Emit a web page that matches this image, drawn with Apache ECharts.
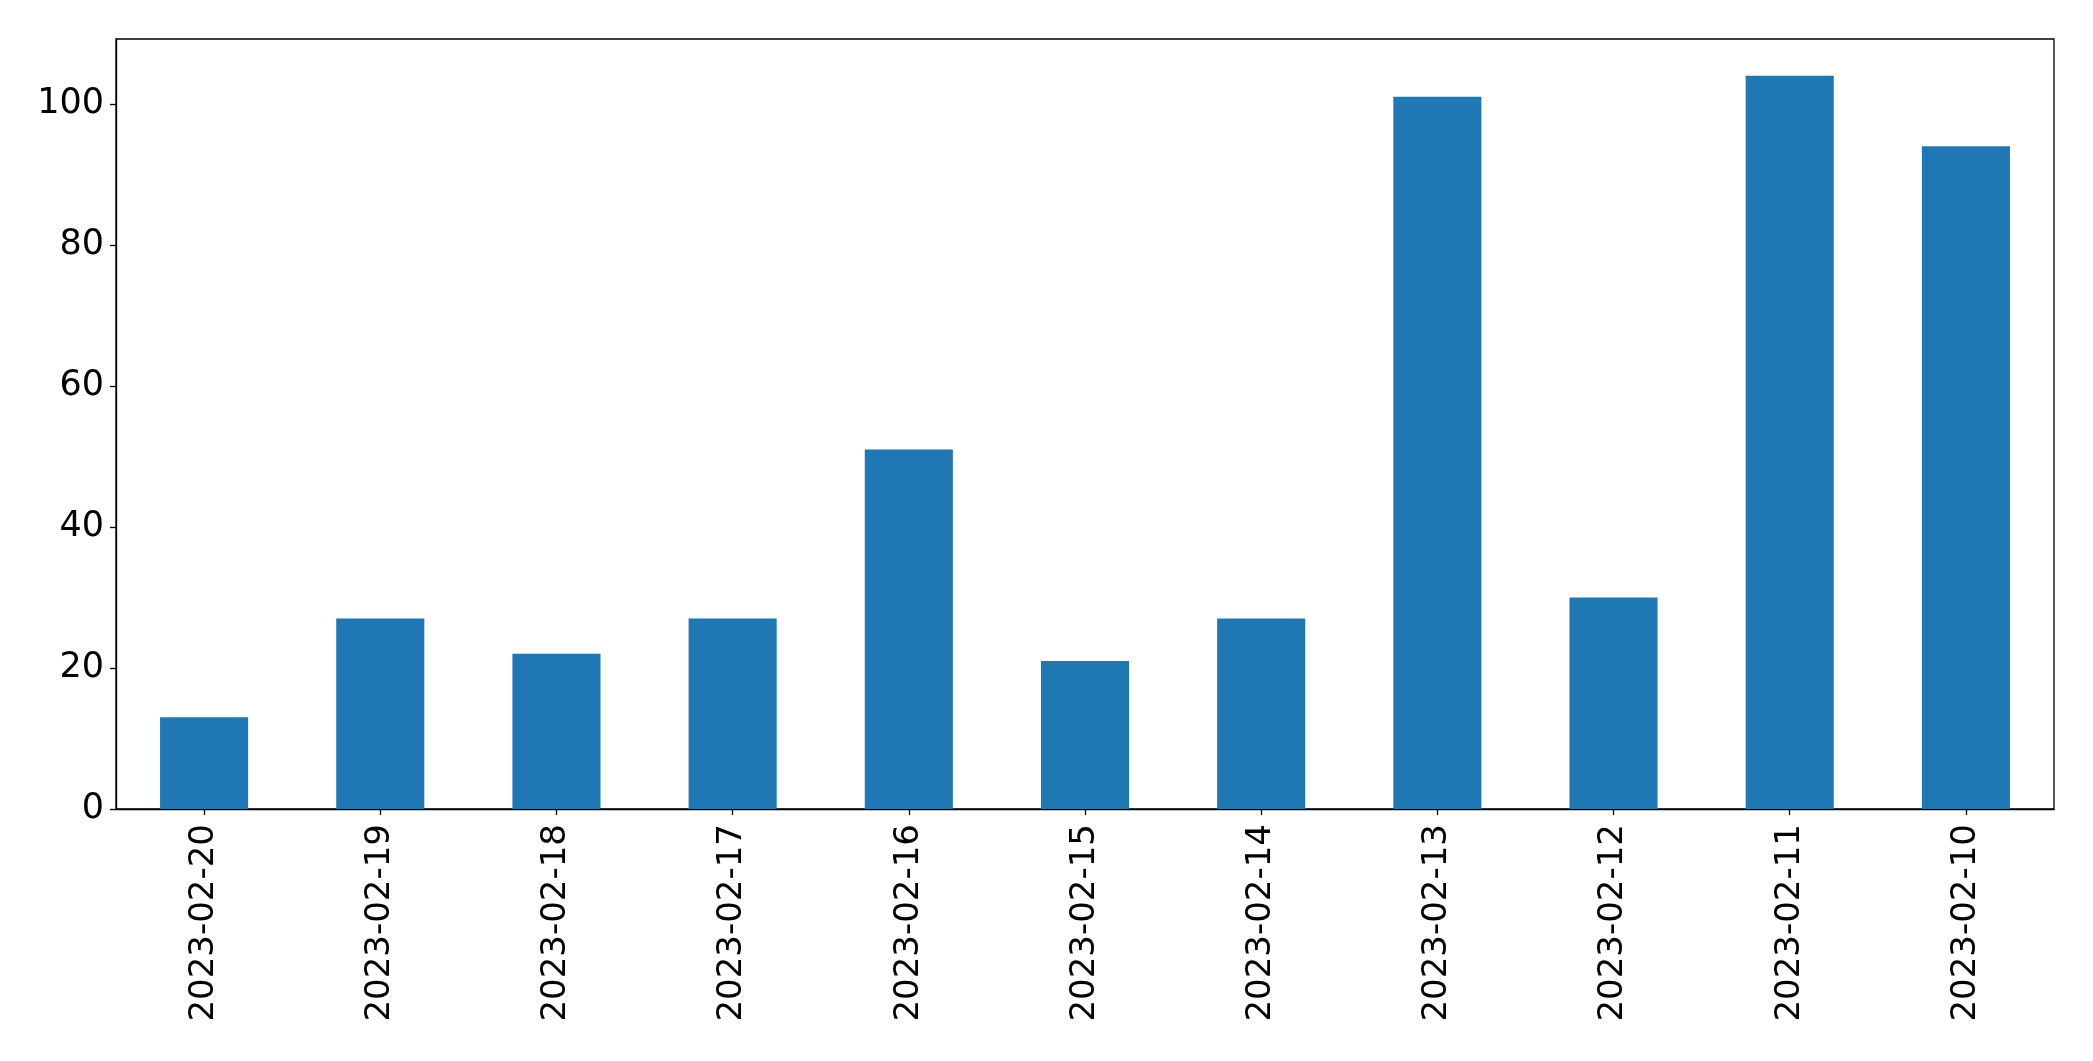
<!DOCTYPE html>
<html>
<head>
<meta charset="utf-8">
<script src="https://cdn.jsdelivr.net/npm/echarts@6/dist/echarts.min.js"></script>
<style>
html,body{margin:0;padding:0;background:#fff;}
#chart{width:2093px;height:1061px;}
</style>
</head>
<body>
<div id="chart"></div>
<script>
const categories = ['2023-02-20','2023-02-19','2023-02-18','2023-02-17','2023-02-16','2023-02-15','2023-02-14','2023-02-13','2023-02-12','2023-02-11','2023-02-10'];
const values = [13, 27, 22, 27, 51, 21, 27, 101, 30, 104, 94];
const yTicks = [0, 20, 40, 60, 80, 100];

const chart = echarts.init(document.getElementById('chart'), null, {renderer: 'canvas'});
const font = 'DejaVu Sans';
chart.setOption({
  animation: false,
  backgroundColor: '#ffffff',
  grid: {
    left: 116, top: 39, width: 1938, height: 770,
    show: true, borderColor: '#000', borderWidth: 1.3, backgroundColor: 'transparent'
  },
  xAxis: {
    type: 'category',
    data: categories,
    boundaryGap: true,
    axisLine: {show: true, lineStyle: {color: '#000', width: 1.3}},
    axisTick: {show: true, alignWithLabel: true, length: 6, lineStyle: {color: '#000', width: 1.3}},
    axisLabel: {rotate: 90, margin: 15, fontSize: 34, color: '#000', fontFamily: font, interval: 0},
    splitLine: {show: false}
  },
  yAxis: {
    type: 'value',
    min: 0,
    max: 109.2,
    interval: 20,
    axisLine: {show: true, lineStyle: {color: '#000', width: 1.3}},
    axisTick: {show: true, length: 6, lineStyle: {color: '#000', width: 1.3}},
    axisLabel: {
      margin: 12, fontSize: 35, color: '#000', fontFamily: font,
      padding: [6, 0, 0, 0],
      showMaxLabel: false,
      formatter: v => yTicks.includes(v) ? String(v) : ''
    },
    splitLine: {show: false}
  },
  series: [{
    type: 'bar',
    data: values,
    barWidth: '50%',
    itemStyle: {color: '#1f77b4'}
  }]
});
</script>
</body>
</html>
